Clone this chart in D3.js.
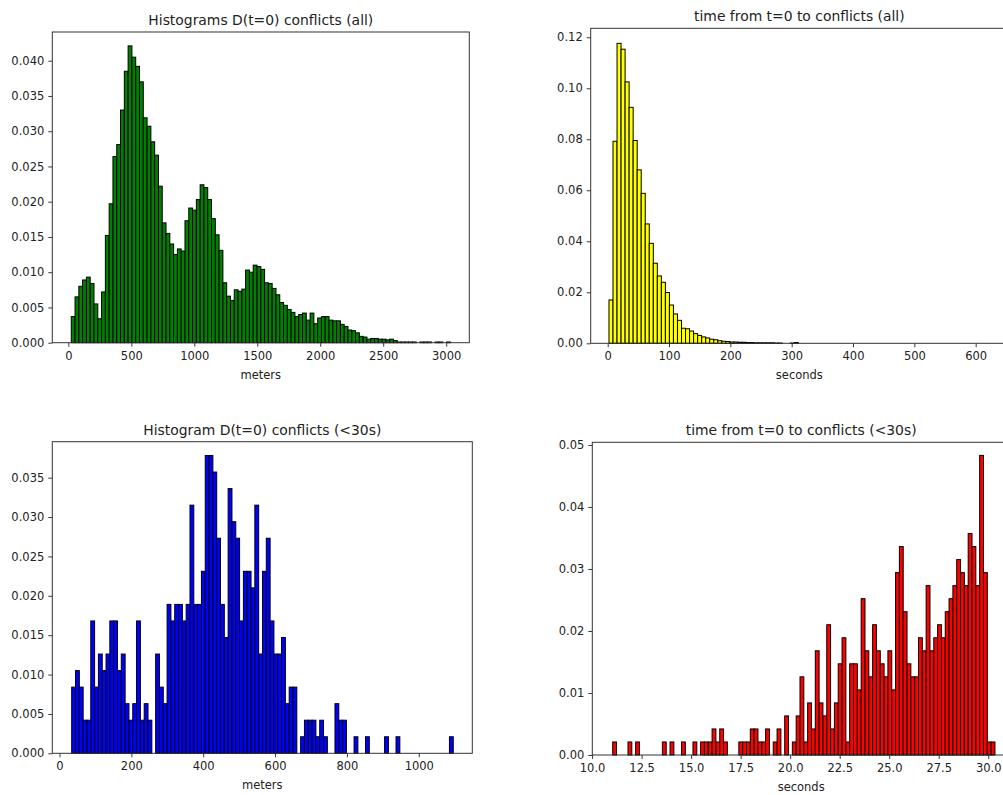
<!DOCTYPE html>
<html>
<head>
<meta charset="utf-8">
<script src="https://cdn.jsdelivr.net/npm/d3@7/dist/d3.min.js"></script>
<style>
  body { margin: 0; background: #fff; }
  svg { display: block; font-family: "DejaVu Sans", sans-serif; }
</style>
</head>
<body>
<svg id="chart" width="1003" height="795"></svg>
<script>
'use strict';

// D(t=0) all conflicts, density per bin (100 bins)
var distAllMin = 23, distAllMax = 3033;
var distAll = [
  0.0037,0.0065,0.0080,0.0089,0.0093,0.0084,0.0055,0.0034,0.0072,0.0152,
  0.0197,0.0264,0.0281,0.0330,0.0385,0.0421,0.0405,0.0392,0.0370,0.0319,
  0.0307,0.0285,0.0266,0.0222,0.0170,0.0155,0.0140,0.0125,0.0133,0.0130,
  0.0173,0.0191,0.0188,0.0203,0.0224,0.0220,0.0203,0.0176,0.0153,0.0131,
  0.0085,0.0066,0.0060,0.0075,0.0073,0.0076,0.0103,0.0100,0.0110,0.0108,
  0.0104,0.0085,0.0084,0.0077,0.0068,0.0057,0.0053,0.0047,0.0043,0.0037,
  0.0040,0.0042,0.0032,0.0042,0.0027,0.0035,0.0037,0.0037,0.0032,0.0031,
  0.0031,0.0026,0.0023,0.0018,0.0017,0.0014,0.0009,0.0008,0.0005,0.0006,
  0.0006,0.0005,0.0005,0.0004,0.0005,0.0003,0.0001,0.0001,0.0001,0.0001,
  0.0001,0,0.0001,0.0001,0.0001,0,0.0001,0.0001,0,0.0001
];

// time to conflict, all (bins of ~6.57 s starting at 2.1 s)
var timeAllMin = 2.1, timeAllBin = 6.57;
var timeAll = [
  0.0170,0.0792,0.1176,0.1153,0.1025,0.0925,0.0795,0.0680,0.0588,0.0468,
  0.0392,0.0314,0.0264,0.0239,0.0199,0.0150,0.0115,0.0090,0.0059,0.0057,
  0.0048,0.0038,0.0031,0.0025,0.0021,0.0016,0.0014,0.0010,0.0008,0.0007,
  0.0005,0.0005,0.0004,0.0004,0.0003,0.0003,0.0002,0.0002,0.0002,0.0002,
  0.0002,0.0001,0.0001,0,0,0.0001,0.0003
];

// D(t=0) for conflicts < 30 s, counts per bin (100 bins)
var dist30Min = 34, dist30Max = 1096;
var dist30 = [
  4,5,4,2,2,8,4,6,5,6,
  8,8,5,6,3,2,3,8,2,3,
  2,0,6,4,3,9,8,9,9,8,
  9,15,9,9,11,18,18,17,13,9,
  7,16,14,13,8,11,11,10,15,6,
  11,13,8,6,6,7,3,4,4,0,
  1,2,2,2,1,2,1,0,0,3,
  2,2,0,0,1,0,0,1,0,0,
  0,0,1,0,0,1,0,0,0,0,
  0,0,0,0,0,0,0,0,0,1
];

// time to conflict < 30 s, counts per bin (100 bins)
var time30Min = 11.04, time30Max = 30.34;
var time30 = [
  1,0,0,0,1,0,1,0,0,0,
  0,0,0,1,0,1,0,0,1,0,
  0,1,0,1,1,1,2,1,2,1,
  0,0,0,1,1,1,2,2,1,1,
  2,0,1,2,0,3,0,1,3,6,
  1,4,2,8,4,3,10,2,4,7,
  9,1,7,7,5,12,8,6,10,8,
  7,6,8,5,14,16,11,7,6,6,
  9,8,13,8,9,10,9,11,12,13,
  15,14,13,17,16,13,23,14,1,1
];

var distAllTicksX = [0,500,1000,1500,2000,2500,3000];
var distAllTicksY = [0,0.005,0.010,0.015,0.020,0.025,0.030,0.035,0.040];
var timeAllTicksX = [0,100,200,300,400,500,600];
var timeAllTicksY = [0,0.02,0.04,0.06,0.08,0.10,0.12];
var dist30TicksX = [0,200,400,600,800,1000];
var dist30TicksY = [0,0.005,0.010,0.015,0.020,0.025,0.030,0.035];
var time30TicksX = [10,12.5,15,17.5,20,22.5,25,27.5,30];
var time30TicksY = [0,0.01,0.02,0.03,0.04,0.05];

//Turn a list of heights into bins with edges
var toBins = function(heights, lo, width){
  return heights.map(function(h,i){
    return {x0: lo + i*width, x1: lo + (i+1)*width, h: h};
  });
};
var sum = function(a){ return d3.sum(a); };

var panels = [
  {
    box: [52.3, 32, 469.3, 342.7],
    xDom: [-127.5, 3183.5], yDom: [0, 0.04407],
    bins: toBins(distAll, distAllMin, (distAllMax - distAllMin)/distAll.length),
    xt: distAllTicksX, yt: distAllTicksY, xf: d3.format('d'), yf: d3.format('.3f'),
    fill: '#008000', title: 'Histograms D(t=0) conflicts (all)', xlabel: 'meters'
  },
  {
    box: [590.7, 28.3, 1008, 343.3],
    xDom: [-27.7, 652.7], yDom: [0, 0.1235],
    bins: toBins(timeAll, timeAllMin, timeAllBin),
    xt: timeAllTicksX, yt: timeAllTicksY, xf: d3.format('d'), yf: d3.format('.2f'),
    fill: '#ffff00', title: 'time from t=0 to conflicts (all)', xlabel: 'seconds'
  },
  {
    box: [52.3, 441.7, 472.3, 753.3],
    xDom: [-20, 1149], yDom: [0, 0.03957],
    bins: toBins(dist30.map(function(c){ return c/sum(dist30); }), dist30Min, (dist30Max - dist30Min)/dist30.length),
    xt: dist30TicksX, yt: dist30TicksY, xf: d3.format('d'), yf: d3.format('.3f'),
    fill: '#0000ff', title: 'Histogram D(t=0) conflicts (<30s)', xlabel: 'meters'
  },
  {
    box: [592.3, 442.3, 1010, 755],
    xDom: [10.01, 31.1], yDom: [0, 0.05043],
    bins: toBins(time30.map(function(c){ return c/sum(time30); }), time30Min, (time30Max - time30Min)/time30.length),
    xt: time30TicksX, yt: time30TicksY, xf: d3.format('.1f'), yf: d3.format('.2f'),
    fill: '#ff0000', title: 'time from t=0 to conflicts (<30s)', xlabel: 'seconds'
  }
];

var svg = d3.select('#chart');

panels.forEach(function(p){
  var x = d3.scaleLinear().domain(p.xDom).range([p.box[0], p.box[2]]);
  var y = d3.scaleLinear().domain(p.yDom).range([p.box[3], p.box[1]]);
  var g = svg.append('g');

  //Bars
  g.selectAll('rect.bar')
    .data(p.bins.filter(function(b){ return b.h > 0; }))
    .enter().append('rect')
      .attr('class','bar')
      .attr('x', function(b){ return x(b.x0); })
      .attr('width', function(b){ return x(b.x1) - x(b.x0); })
      .attr('y', function(b){ return y(b.h); })
      .attr('height', function(b){ return y(0) - y(b.h); })
      .attr('fill', p.fill)
      .attr('stroke', '#000')
      .attr('stroke-width', 1);

  //Axes
  var xa = g.append('g')
    .attr('transform','translate(0,' + p.box[3] + ')')
    .call(d3.axisBottom(x).tickValues(p.xt).tickFormat(p.xf).tickSize(4).tickSizeOuter(0).tickPadding(5));
  var ya = g.append('g')
    .attr('transform','translate(' + p.box[0] + ',0)')
    .call(d3.axisLeft(y).tickValues(p.yt).tickFormat(p.yf).tickSize(4).tickSizeOuter(0).tickPadding(4));
  [xa, ya].forEach(function(a){
    a.select('.domain').remove();
    a.attr('font-family','"DejaVu Sans", sans-serif').attr('font-size', 11.5);
    a.selectAll('text').attr('fill','#222');
    a.selectAll('line').attr('stroke','#222').attr('stroke-width',0.9);
  });

  //Frame
  g.append('rect')
    .attr('x', p.box[0]).attr('y', p.box[1])
    .attr('width', p.box[2] - p.box[0]).attr('height', p.box[3] - p.box[1])
    .attr('fill','none').attr('stroke','#333').attr('stroke-width',1);

  //Title and x label
  var cx = (p.box[0] + p.box[2]) / 2;
  g.append('text')
    .attr('x', cx).attr('y', p.box[1] - 7)
    .attr('text-anchor','middle').attr('font-size', 13.9).attr('fill','#222')
    .text(p.title);
  g.append('text')
    .attr('x', cx).attr('y', p.box[3] + 36)
    .attr('text-anchor','middle').attr('font-size', 11.5).attr('fill','#222')
    .text(p.xlabel);
});
</script>
</body>
</html>
